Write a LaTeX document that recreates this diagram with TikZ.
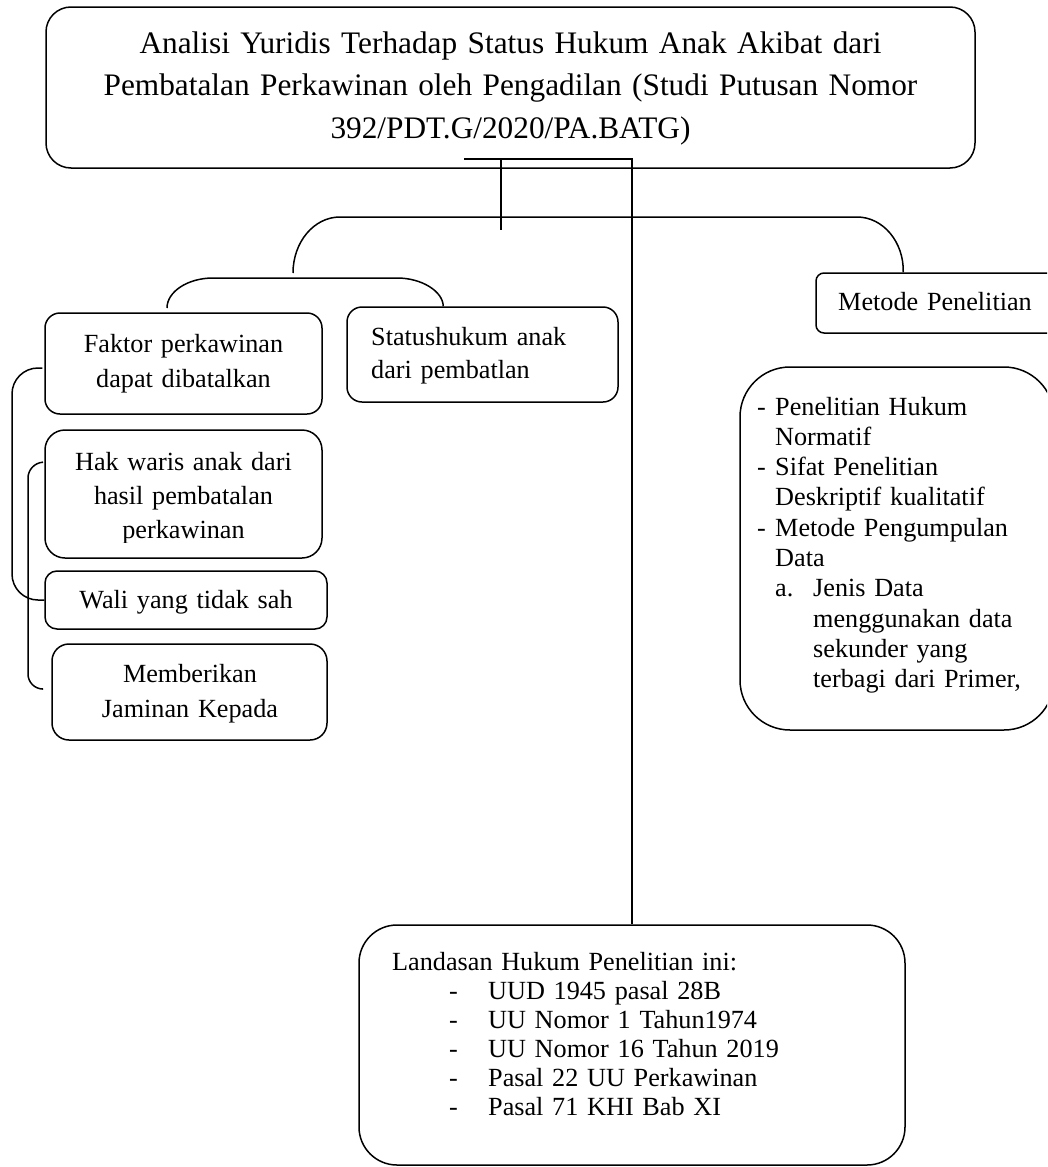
\documentclass[tikz,border=0pt]{standalone}
\usepackage{fontspec}
\setmainfont{Liberation Serif}
\usetikzlibrary{calc}
\begin{document}
\begin{tikzpicture}[x=1pt,y=-1pt,
  box/.style={draw, line width=1.5pt, rectangle, inner sep=0pt},
  link/.style={line width=1.5pt},
  body/.style={inner sep=0pt, font={\fontsize{26.2}{30.3}\selectfont}},
  ctext/.style={body, anchor=base, align=center},
  ltext/.style={body, anchor=base west, align=left}]
\clip (0,0) rectangle (1047,1167);
\useasboundingbox (0,0) rectangle (1047,1167);
\fill[white] (0,0) rectangle (1047,1167);

% boxes
\node[box, rounded corners=25pt, minimum width=929pt, minimum height=161pt] (top) at (510.5,87.5) {};
\node[box, rounded corners=15pt, minimum width=277pt, minimum height=101pt] (faktor) at (183.5,363.5) {};
\node[box, rounded corners=15pt, minimum width=271pt, minimum height=95pt] (status) at (482.5,354.5) {};
\node[box, rounded corners=20pt, minimum width=277pt, minimum height=128pt] (hak) at (183.5,494) {};
\node[box, rounded corners=12pt, minimum width=282pt, minimum height=58pt] (wali) at (186,600) {};
\node[box, rounded corners=17pt, minimum width=275pt, minimum height=96pt] (memb) at (189.5,692) {};
\node[box, rounded corners=8pt, minimum width=250pt, minimum height=60pt] (metode) at (941,303) {};
\node[box, rounded corners=50pt, minimum width=314pt, minimum height=363pt] (methods) at (897,548.5) {};
\node[box, rounded corners=38pt, minimum width=546pt, minimum height=240pt] (landasan) at (632,1045) {};

% texts
\node[ctext, text width=900pt, font={\fontsize{31.3}{42.5}\selectfont}] (topT) at (510.5,53.3)
  {Analisi Yuridis Terhadap Status Hukum Anak Akibat dari\\Pembatalan Perkawinan oleh Pengadilan (Studi Putusan Nomor\\392/PDT.G/2020/PA.BATG)};
\node[ctext, text width=270pt, font={\fontsize{26.2}{35}\selectfont}] (faktorT) at (183.5,352)
  {Faktor perkawinan\\dapat dibatalkan};
\node[ltext, text width=240pt, font={\fontsize{26.2}{33}\selectfont}] (statusT) at (371,345)
  {Statushukum anak\\dari pembatlan};
\begin{scope}
\clip (40,425) rectangle (330,542);
\node[ctext, text width=270pt, font={\fontsize{26.2}{34}\selectfont}] (hakT) at (183.5,470)
  {Hak waris anak dari\\hasil pembatalan\\perkawinan};
\end{scope}
\node[ctext, text width=270pt] (waliT) at (186,608) {Wali yang tidak sah};
\node[ctext, text width=270pt, font={\fontsize{26.2}{35}\selectfont}] (membT) at (190,682)
  {Memberikan\\Jaminan Kepada};
\node[ctext, text width=230pt] (metodeT) at (935,310) {Metode Penelitian};
\begin{scope}
\clip (740,367) rectangle (1047,708);
\node[ltext, text width=300pt] (methodsT) at (757,415)
  {\makebox[18pt][l]{-}Penelitian Hukum\\
   \hspace*{18pt}Normatif\\
   \makebox[18pt][l]{-}Sifat Penelitian\\
   \hspace*{18pt}Deskriptif kualitatif\\
   \makebox[18pt][l]{-}Metode Pengumpulan\\
   \hspace*{18pt}Data\\
   \hspace*{18pt}\makebox[38pt][l]{a.}Jenis Data\\
   \hspace*{56pt}menggunakan data\\
   \hspace*{56pt}sekunder yang\\
   \hspace*{56pt}terbagi dari Primer,};
\end{scope}
\node[ltext, text width=500pt, font={\fontsize{26.2}{29}\selectfont}] (landasanT) at (392,970)
  {Landasan Hukum Penelitian ini:\\
   \hspace*{57pt}\makebox[39pt][l]{-}UUD 1945 pasal 28B\\
   \hspace*{57pt}\makebox[39pt][l]{-}UU Nomor 1 Tahun1974\\
   \hspace*{57pt}\makebox[39pt][l]{-}UU Nomor 16 Tahun 2019\\
   \hspace*{57pt}\makebox[39pt][l]{-}Pasal 22 UU Perkawinan\\
   \hspace*{57pt}\makebox[39pt][l]{-}Pasal 71 KHI Bab XI};

% connector coordinates
\coordinate (hl) at (464,159);
\coordinate (jn) at (501,159);
\coordinate (jd) at (501,230);
\coordinate (bL) at (293,273);
\coordinate (bR) at ($(metode.north west)+(88,0)$);
\coordinate (sL) at (167,308);
\coordinate (sR) at ($(status.north west)+(97,0)$);

% connectors
\draw[link] (hl) -- (landasan.north |- hl) -- (landasan.north);
\draw[link] (jn) -- (jd);
\draw[link] (bL) .. controls (293,242) and (314,217) .. (340,217) -- (857,217)
  .. controls (883,217) and (904,242) .. (bR);
\draw[link] (sL) .. controls (167,291.5) and (188,278) .. (213,278) -- (397,278)
  .. controls (422,278) and (443,291.5) .. (sR);
\draw[link] ($(metode.south west)+(161,0)$) -- ($(metode.south west)+(161,0)$ |- methods.north);
\draw[link, rounded corners=26pt] ($(faktor.west)+(-2,4.5)$) -- (12,368) -- (12,600) -- (wali.west);
\draw[link, rounded corners=15pt] ($(hak.north west)+(-2,33)$) -- (28,463) -- (28,689) -- ($(memb.west)+(-9,-3)$);
\end{tikzpicture}
\end{document}
